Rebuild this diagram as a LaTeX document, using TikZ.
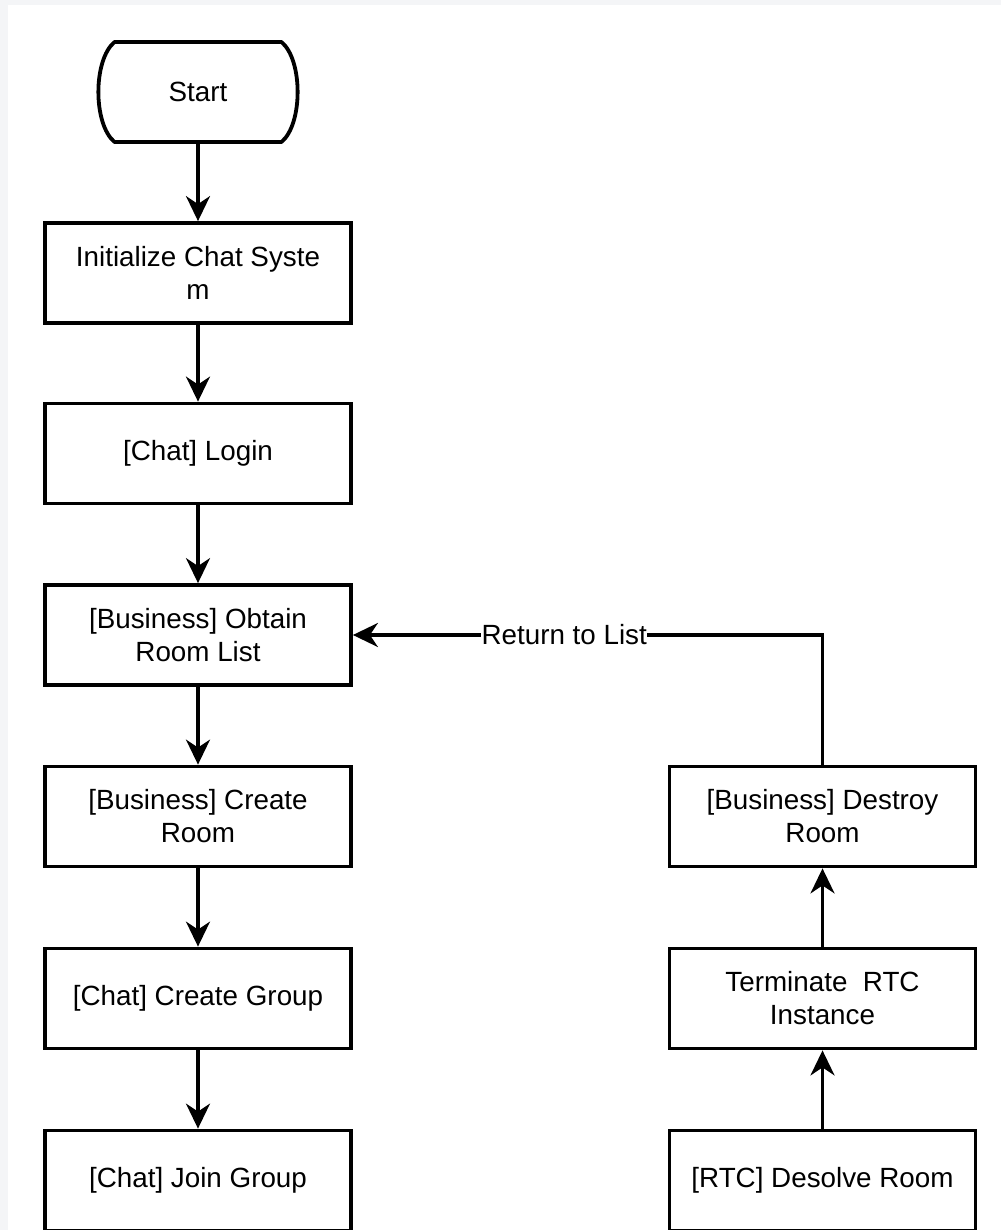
\documentclass[tikz,border=0pt]{standalone}
\usepackage{fontspec}
\setmainfont{Liberation Sans}
\usetikzlibrary{arrows.meta}
\definecolor{pagegray}{HTML}{F4F5F7}
\begin{document}
\begin{tikzpicture}[x=1pt,y=-1pt,
  every node/.style={font=\fontsize{27.8}{33}\selectfont},
  stepbox/.style={draw, line width=3.8pt, minimum width=306pt, minimum height=100pt,
    align=center, inner sep=0pt},
  shapeline/.style={line width=3.8pt, line join=round},
  flow/.style={line width=3.2pt, -{Stealth[length=25pt,width=24pt,inset=8pt]}},
  lbl/.style={fill=white, inner sep=0.5pt}]
\useasboundingbox (0,0) rectangle (1001,1230);
% card on a light page
\fill[pagegray] (0,0) rectangle (1001,1230);
\fill[white] (8,5) rectangle (1001,1230);

% terminator
\node[minimum width=199pt, minimum height=100pt, inner sep=0pt, outer sep=0pt]
  (start) at (198,92) {Start};
\draw[shapeline] (114.5,42) -- (281.5,42)
  .. controls (303,60) and (303,124) .. (281.5,142) -- (114.5,142)
  .. controls (93,124) and (93,60) .. (114.5,42) -- cycle;

% left column
\node[stepbox] (init)   at (198,273)   {Initialize Chat Syste\\m};
\node[stepbox] (login)  at (198,453.5) {[Chat] Login};
\node[stepbox] (list)   at (198,635)   {[Business] Obtain\\Room List};
\node[stepbox] (create) at (198,816.5) {[Business] Create\\Room};
\node[stepbox] (group)  at (198,998.5) {[Chat] Create Group};
\node[stepbox] (join)   at (198,1180.5)  {[Chat] Join Group};

% right column
\node[stepbox] (destroy) at (822.5,816.5) {[Business] Destroy\\Room};
\node[stepbox] (term)    at (822.5,998.5) {Terminate~~RTC\\Instance};
\node[stepbox] (dissolve) at (822.5,1180.5) {[RTC] Desolve Room};

% connectors
\draw[flow] (start.south) -- (init.north);
\draw[flow] (init.south) -- (login.north);
\draw[flow] (login.south) -- (list.north);
\draw[flow] (list.south) -- (create.north);
\draw[flow] (create.south) -- (group.north);
\draw[flow] (group.south) -- (join.north);
\draw[flow] (dissolve.north) -- (term.south);
\draw[flow] (term.north) -- (destroy.south);
\draw[flow] (destroy.north) |- node[lbl, pos=0.775] (ret) {Return to List} (list.east);
\end{tikzpicture}
\end{document}
